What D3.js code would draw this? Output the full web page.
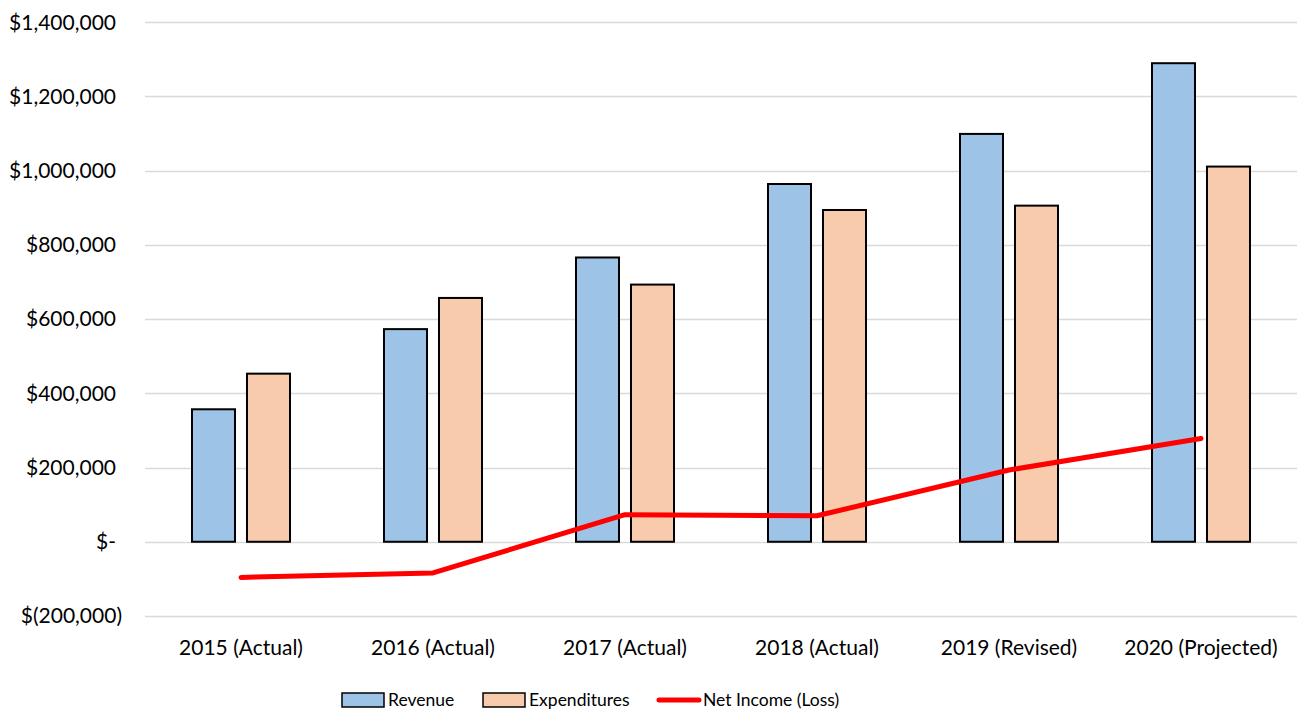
<!DOCTYPE html>
<html><head><meta charset="utf-8">
<script src="https://cdn.jsdelivr.net/npm/d3@7"></script>
<style>body{margin:0;background:#fff;}svg{display:block;font-family:Lato,"Open Sans",sans-serif;}</style>
</head><body>
<svg id="chart" width="1297" height="711"></svg>
<script>
const categories = ["2015 (Actual)","2016 (Actual)","2017 (Actual)","2018 (Actual)","2019 (Revised)","2020 (Projected)"];
const revenue = [357000, 573000, 766000, 964000, 1099000, 1289500];
const expenditures = [453000, 657000, 693000, 894000, 905700, 1011000];
const netIncome = [-96000, -84000, 73000, 70000, 193300, 278500];
const yTicks = [-200000, 0, 200000, 400000, 600000, 800000, 1000000, 1200000, 1400000];
const seriesNames = ["Revenue","Expenditures","Net Income (Loss)"];

const svg = d3.select("#chart");
const left = 145, right = 1297;
const y = d3.scaleLinear().domain([-200000, 1400000]).range([616, 22.2]);
const x = d3.scaleBand().domain(categories).range([left, right]).padding(0);
const inner = d3.scaleBand().domain([0,1]).range([47, 145]).paddingInner(0.218);

const fmt = v => v === 0 ? "$-" : v < 0 ? "$(" + d3.format(",")(-v) + ")" : "$" + d3.format(",")(v);

// gridlines
svg.append("g").selectAll("line").data(yTicks).join("line")
  .attr("x1", left).attr("x2", right)
  .attr("y1", d => Math.round(y(d)) + 0.5).attr("y2", d => Math.round(y(d)) + 0.5)
  .attr("stroke", "#d9d9d9").attr("stroke-width", 1.5);

// y axis labels
svg.append("g").selectAll("text").data(yTicks).join("text")
  .attr("x", d => d < 0 ? 122 : 116)
  .attr("y", d => y(d))
  .attr("dy", "0.35em")
  .attr("text-anchor", "end")
  .attr("font-size", 21)
  .attr("fill", "#000")
  .text(fmt);

// bars
const colors = ["#9dc3e6", "#f8cbad"];
[revenue, expenditures].forEach((arr, si) => {
  svg.append("g").selectAll("rect").data(arr).join("rect")
    .attr("x", (d, i) => x(categories[i]) + inner(si))
    .attr("width", inner.bandwidth())
    .attr("y", d => y(Math.max(0, d)))
    .attr("height", d => Math.abs(y(d) - y(0)))
    .attr("fill", colors[si])
    .attr("stroke", "#000").attr("stroke-width", 2);
});

// net income line
const line = d3.line().x((d, i) => x(categories[i]) + x.bandwidth() / 2).y(d => y(d));
svg.append("path").datum(netIncome)
  .attr("d", line).attr("fill", "none")
  .attr("stroke", "#ff0000").attr("stroke-width", 5)
  .attr("stroke-linecap", "round").attr("stroke-linejoin", "round");

// category labels
svg.append("g").selectAll("text").data(categories).join("text")
  .attr("x", d => x(d) + x.bandwidth() / 2)
  .attr("y", 655)
  .attr("text-anchor", "middle")
  .attr("font-size", 21)
  .attr("fill", "#000")
  .text(d => d);

// legend
const lg = svg.append("g");
const ly = 700;
const legendX = [342, 483, 657];
[0, 1].forEach(i => {
  lg.append("rect").attr("x", legendX[i]).attr("y", ly - 7).attr("width", 42).attr("height", 14)
    .attr("fill", colors[i]).attr("stroke", "#000").attr("stroke-width", 1.5);
  lg.append("text").attr("x", legendX[i] + 46).attr("y", ly).attr("dy", "0.35em")
    .attr("font-size", 17.5).text(seriesNames[i]);
});
lg.append("line").attr("x1", legendX[2] + 2).attr("x2", legendX[2] + 42).attr("y1", ly).attr("y2", ly)
  .attr("stroke", "#ff0000").attr("stroke-width", 5).attr("stroke-linecap", "round");
lg.append("text").attr("x", legendX[2] + 46).attr("y", ly).attr("dy", "0.35em")
  .attr("font-size", 17.5).text(seriesNames[2]);
</script>
</body></html>
